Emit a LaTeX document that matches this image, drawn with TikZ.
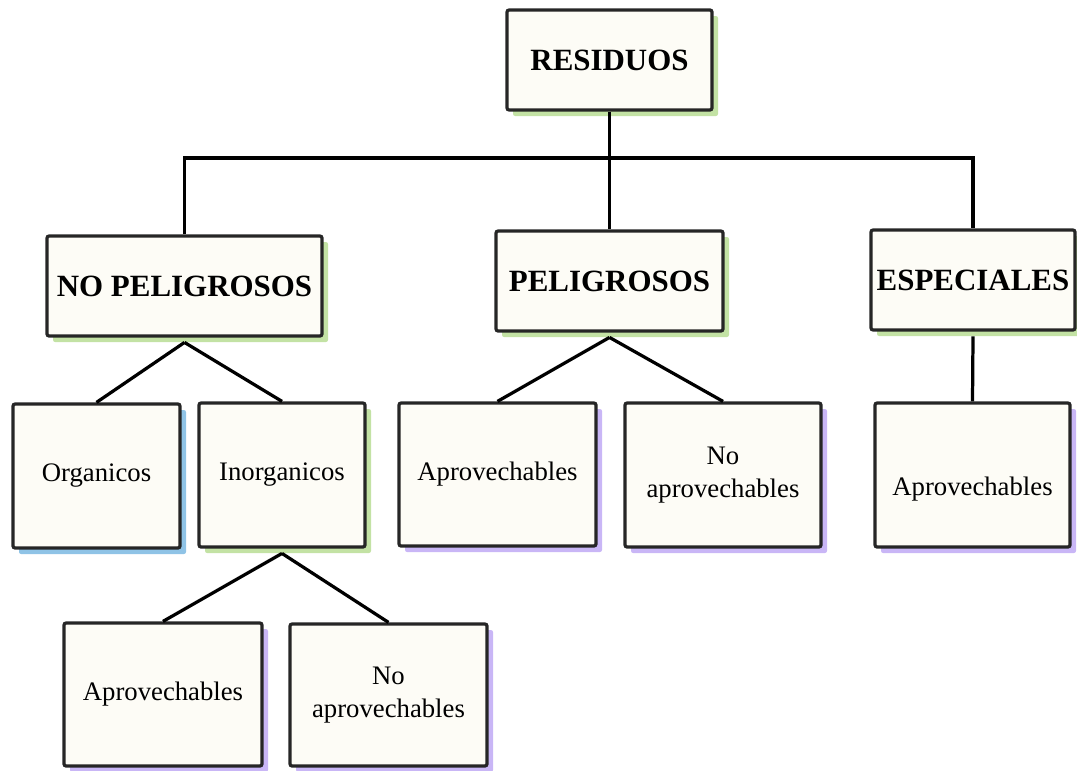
\documentclass[tikz,border=0pt]{standalone}
\usepackage{fontspec}
\setmainfont{Liberation Serif}
\usetikzlibrary{shadows}
\definecolor{boxfill}{HTML}{FDFCF6}
\definecolor{shgreen}{HTML}{C3E2A4}
\definecolor{shblue}{HTML}{8FC3E6}
\definecolor{shpurple}{HTML}{C9B6F6}
\definecolor{ink}{HTML}{262626}
\tikzset{
  box/.style={draw=ink, line width=2.3pt, fill=boxfill, inner sep=0pt, align=center,
    rounded corners=1.5pt, text=black},
  sz/.style 2 args={minimum width=#1*0.025cm, minimum height=#2*0.025cm},
  head/.style={box, font=\fontsize{22}{26}\selectfont\bfseries},
  leaf/.style={box, font=\fontsize{19}{23}\selectfont},
  shg/.style={drop shadow={fill=shgreen, opacity=1, shadow xshift=0.15cm, shadow yshift=-0.15cm}},
  shb/.style={drop shadow={fill=shblue, opacity=1, shadow xshift=0.15cm, shadow yshift=-0.15cm}},
  shp/.style={drop shadow={fill=shpurple, opacity=1, shadow xshift=0.15cm, shadow yshift=-0.15cm}},
  conn/.style={draw=black, line width=2.3pt}
}
\begin{document}
\begin{tikzpicture}[x=0.025cm, y=-0.025cm]
\useasboundingbox (0,0) rectangle (1077,770);
% level 0
\node[head, shg, sz={205}{100}] (res) at (609.5,60) {RESIDUOS};
% level 1
\node[head, shg, sz={275}{100}] (nop) at (184.5,286) {NO PELIGROSOS};
\node[head, shg, sz={227}{100}] (pel) at (609.5,281) {PELIGROSOS};
\node[head, shg, sz={204}{100}] (esp) at (973,280) {ESPECIALES};
% level 2
\node[leaf, shb, sz={167}{144}] (org) at (96.5,476) {Organicos};
\node[leaf, shg, sz={166}{144}] (inorg) at (282,475) {Inorganicos};
\node[leaf, shp, sz={197}{143}] (aprp) at (497.5,474.5) {Aprovechables};
\node[leaf, shp, sz={196}{144}] (noaprp) at (723,475) {No\\aprovechables};
\node[leaf, shp, sz={195}{144}] (apre) at (972.5,475) {\raisebox{-0.5cm}[0pt][0pt]{Aprovechables}};
% level 3
\node[leaf, shp, sz={198}{143}] (apri) at (163,694.5) {Aprovechables};
\node[leaf, shp, sz={197}{142}] (noapri) at (388.5,695) {No\\aprovechables};
% connectors
\coordinate (bus) at (609.5,158);
\draw[conn] (res.south) -- (pel.north);
\draw[conn] (nop.north) |- (bus) -| (esp.north);
\draw[conn] ([yshift=-0.12cm]nop.south) -- (org.north);
\draw[conn] ([yshift=-0.12cm]nop.south) -- (inorg.north);
\draw[conn] ([yshift=-0.12cm]pel.south) -- (aprp.north);
\draw[conn] ([yshift=-0.12cm]pel.south) -- (noaprp.north);
\draw[conn] ([yshift=-0.12cm]esp.south) -- (apre.north);
\draw[conn] ([yshift=-0.12cm]inorg.south) -- (apri.north);
\draw[conn] ([yshift=-0.12cm]inorg.south) -- (noapri.north);
\end{tikzpicture}
\end{document}
